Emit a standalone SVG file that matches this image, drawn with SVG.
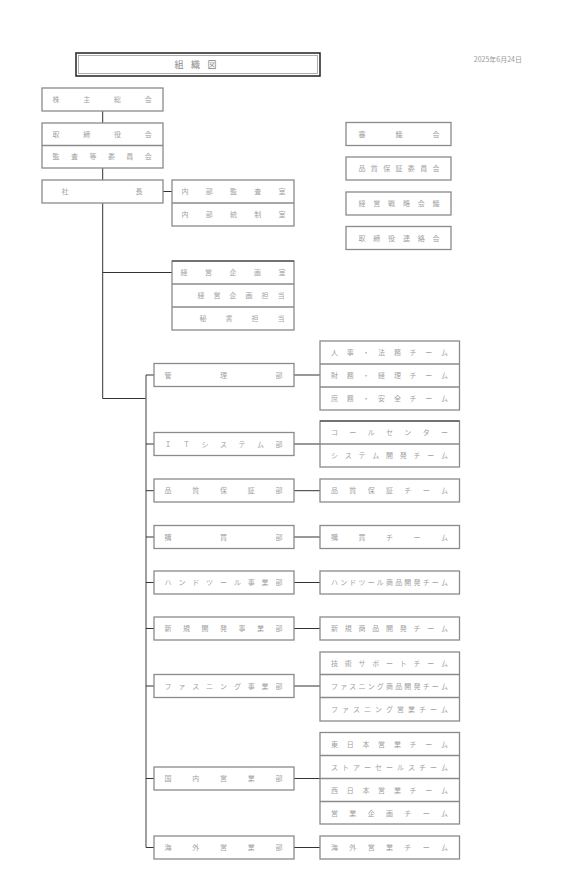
<svg xmlns="http://www.w3.org/2000/svg" width="588" height="877" viewBox="0 0 588 877">
<style>
.b{fill:#fff;stroke:#8a8a8a;stroke-width:1.3}
.s{stroke:#8a8a8a;stroke-width:1.3;fill:none}
.t{font-family:"Noto Sans CJK JP","Noto Sans",sans-serif;font-size:7px;fill:#a2a2a2;text-anchor:middle}
.c{stroke:#333;stroke-width:1;fill:none}
.g{stroke:#777;stroke-width:1.4;fill:none}
</style>
<rect width="588" height="877" fill="#fff"/>
<g id="title">
<rect x="76" y="53" width="244" height="23" fill="#fff" stroke="#222" stroke-width="1.5"/>
<rect x="78.5" y="55.5" width="239" height="18" fill="none" stroke="#999" stroke-width="0.8"/>
<text class="t" style="font-size:9px;fill:#888" x="179 195.5 212" y="67.5">組織図</text>
</g>
<g id="date"><text class="t" style="font-size:7px;text-anchor:end;fill:#999" x="522" y="62">2025年6月24日</text></g>
<g id="connectors">
<path class="c" d="M102.7 111V123M102.7 168V180M163 191.5H172M102.7 203V398.5H146M102.7 272.5H172"/>
<path class="g" d="M146 375V847.5"/>
<path class="c" d="M146 375H154M294 375H320M146 444H154M294 444H320M146 490.7H154M294 490.7H320M146 537H154M294 537H320M146 582.5H154M294 582.5H320M146 628.5H154M294 628.5H320M146 686H154M294 686H320M146 778.5H154M294 778.5H320M146 847.5H154M294 847.5H320"/>
</g>
<g id="n-kabunushi"><rect class="b" x="42" y="88" width="121" height="23"/><text class="t" x="56 86.8 117.5 148.3" y="102.1">株主総会</text></g>
<g id="n-torishimariyaku"><rect class="b" x="42" y="123" width="121" height="45"/><path class="s" d="M42 145.5H163"/>
<text class="t" x="56 86.8 117.5 148.3" y="136.8">取締役会</text>
<text class="t" x="56 74.5 92.9 111.4 129.8 148.3" y="159.3">監査等委員会</text></g>
<g id="n-shacho"><rect class="b" x="42" y="180" width="121" height="23"/><text class="t" x="65 139" y="194.1">社長</text></g>
<g id="n-naibu"><rect class="b" x="172" y="180" width="122" height="46"/><path class="s" d="M172 203H294"/>
<text class="t" x="185 209.25 233.5 257.75 282" y="194.1">内部監査室</text>
<text class="t" x="185 209.25 233.5 257.75 282" y="217.1">内部統制室</text></g>
<g id="n-keiei"><rect class="b" x="172" y="261" width="122" height="69"/><path class="s" d="M172 284H294M172 307H294"/><path class="c" d="M172 261H294"/>
<text class="t" x="184 208.5 233 257.5 282" y="275.1">経営企画室</text>
<text class="t" x="201 217 233 249 265 281" y="298.1">経営企画担当</text>
<text class="t" x="203 229 255 281" y="321.1">秘書担当</text></g>
<g id="n-shingikai"><rect class="b" x="346" y="122.5" width="105" height="23"/><text class="t" x="362 399 436" y="136.6">審議会</text></g>
<g id="n-hinshitsuiinkai"><rect class="b" x="346" y="157" width="105" height="23"/><text class="t" x="362 374.3 386.7 399 411.3 423.7 436" y="171.1">品質保証委員会</text></g>
<g id="n-senryaku"><rect class="b" x="346" y="192" width="105" height="23"/><text class="t" x="362 376.8 391.6 406.4 421.2 436" y="206.1">経営戦略会議</text></g>
<g id="n-renrakukai"><rect class="b" x="346" y="226.5" width="105" height="23"/><text class="t" x="362 376.8 391.6 406.4 421.2 436" y="240.6">取締役連絡会</text></g>
<g id="d-kanri"><rect class="b" x="154" y="363.5" width="140" height="23"/><text class="t" x="168 223.5 279" y="377.6">管理部</text></g>
<g id="d-it"><rect class="b" x="154" y="432.5" width="140" height="23"/><text class="t" x="168 186.5 205 223.5 242 260.5 279" y="446.6">ＩＴシステム部</text></g>
<g id="d-hinshitsu"><rect class="b" x="154" y="479" width="140" height="23"/><text class="t" x="168 195.75 223.5 251.25 279" y="493.1">品質保証部</text></g>
<g id="d-kobai"><rect class="b" x="154" y="525.5" width="140" height="23"/><text class="t" x="168 223.5 279" y="539.6">購買部</text></g>
<g id="d-hand"><rect class="b" x="154" y="571" width="140" height="23"/><text class="t" x="168 181.9 195.8 209.6 223.5 237.4 251.3 265.1 279" y="585.1">ハンドツール事業部</text></g>
<g id="d-shinki"><rect class="b" x="154" y="617" width="140" height="23"/><text class="t" x="168 186.5 205 223.5 242 260.5 279" y="631.1">新規開発事業部</text></g>
<g id="d-fas"><rect class="b" x="154" y="674.5" width="140" height="23"/><text class="t" x="168 181.9 195.8 209.6 223.5 237.4 251.3 265.1 279" y="688.6">ファスニング事業部</text></g>
<g id="d-kokunai"><rect class="b" x="154" y="767" width="140" height="23"/><text class="t" x="168 195.75 223.5 251.25 279" y="781.1">国内営業部</text></g>
<g id="d-kaigai"><rect class="b" x="154" y="836" width="140" height="23"/><text class="t" x="168 195.75 223.5 251.25 279" y="850.1">海外営業部</text></g>
<g id="t-kanri"><rect class="b" x="320" y="341" width="139.5" height="69"/><path class="s" d="M320 364H459.5M320 387H459.5"/>
<text class="t" x="334.5 350.2 365.9 381.6 397.4 413.1 428.8 444.5" y="355.1">人事・法務チーム</text>
<text class="t" x="334.5 350.2 365.9 381.6 397.4 413.1 428.8 444.5" y="378.1">財務・経理チーム</text>
<text class="t" x="334.5 350.2 365.9 381.6 397.4 413.1 428.8 444.5" y="401.1">庶務・安全チーム</text></g>
<g id="t-it"><rect class="b" x="320" y="421" width="139.5" height="46"/><path class="s" d="M320 444H459.5"/><path class="c" d="M320 421H459.5"/>
<text class="t" x="334.5 352.8 371.2 389.5 407.8 426.2 444.5" y="435.1">コールセンター</text>
<text class="t" x="334.5 348.25 362 375.75 389.5 403.25 417 430.75 444.5" y="458.1">システム開発チーム</text></g>
<g id="t-hinshitsu"><rect class="b" x="320" y="479" width="139.5" height="23"/><text class="t" x="334.5 352.8 371.2 389.5 407.8 426.2 444.5" y="493.1">品質保証チーム</text></g>
<g id="t-kobai"><rect class="b" x="320" y="525.5" width="139.5" height="23"/><text class="t" x="334.5 362 389.5 417 444.5" y="539.6">購買チーム</text></g>
<g id="t-hand"><rect class="b" x="320" y="571" width="139.5" height="23"/><text class="t" x="334.5 343.7 352.8 362 371.2 380.3 389.5 398.7 407.8 417 426.2 435.3 444.5" y="585.1">ハンドツール商品開発チーム</text></g>
<g id="t-shinki"><rect class="b" x="320" y="617" width="139.5" height="23"/><text class="t" x="334.5 348.25 362 375.75 389.5 403.25 417 430.75 444.5" y="631.1">新規商品開発チーム</text></g>
<g id="t-fas"><rect class="b" x="320" y="652" width="139.5" height="69"/><path class="s" d="M320 674.5H459.5M320 697.5H459.5"/>
<text class="t" x="334.5 348.25 362 375.75 389.5 403.25 417 430.75 444.5" y="666.1">技術サポートチーム</text>
<text class="t" x="334.5 343.7 352.8 362 371.2 380.3 389.5 398.7 407.8 417 426.2 435.3 444.5" y="688.6">ファスニング商品開発チーム</text>
<text class="t" x="334.5 345.5 356.5 367.5 378.5 389.5 400.5 411.5 422.5 433.5 444.5" y="711.6">ファスニング営業チーム</text></g>
<g id="t-kokunai"><rect class="b" x="320" y="732.5" width="139.5" height="91.5"/><path class="s" d="M320 755.5H459.5M320 778.5H459.5M320 801.5H459.5"/>
<text class="t" x="334.5 350.2 365.9 381.6 397.4 413.1 428.8 444.5" y="746.6">東日本営業チーム</text>
<text class="t" x="334.5 345.5 356.5 367.5 378.5 389.5 400.5 411.5 422.5 433.5 444.5" y="769.6">ストアーセールスチーム</text>
<text class="t" x="334.5 350.2 365.9 381.6 397.4 413.1 428.8 444.5" y="792.6">西日本営業チーム</text>
<text class="t" x="334.5 352.8 371.2 389.5 407.8 426.2 444.5" y="815.6">営業企画チーム</text></g>
<g id="t-kaigai"><rect class="b" x="320" y="836" width="139.5" height="23"/><text class="t" x="334.5 352.8 371.2 389.5 407.8 426.2 444.5" y="850.1">海外営業チーム</text></g>
</svg>
